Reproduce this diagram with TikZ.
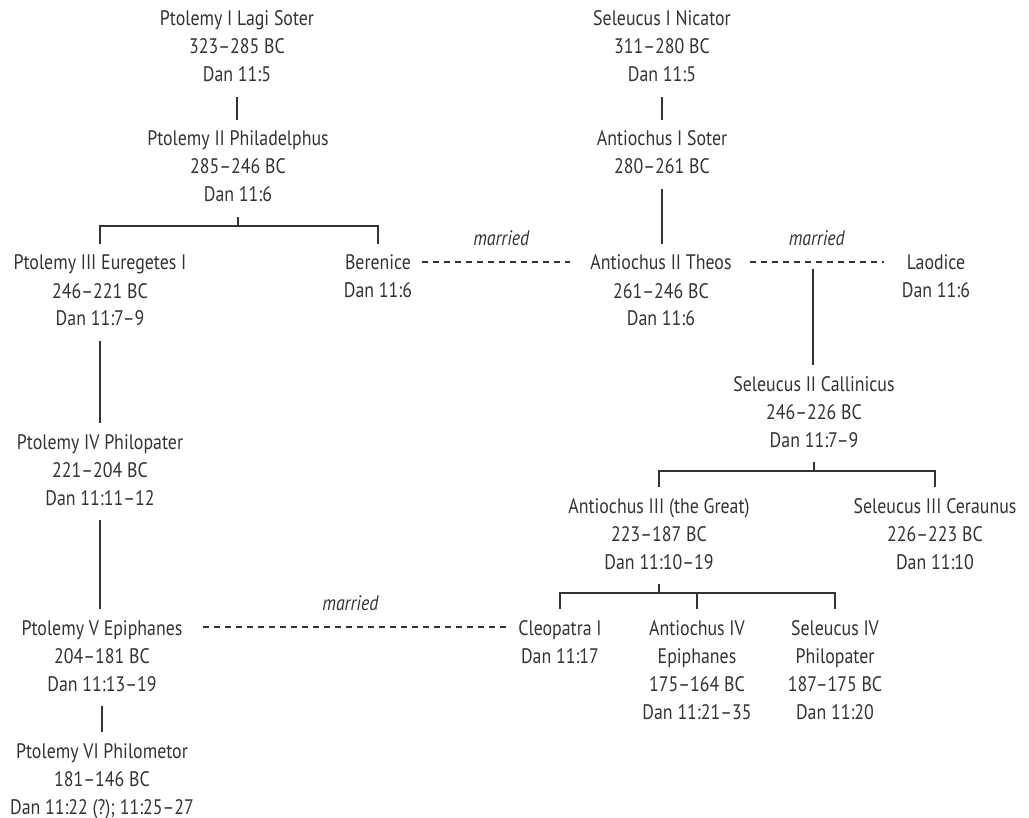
\documentclass[tikz,border=0pt]{standalone}
\usepackage{fontspec}
\setmainfont{PT Sans}[FakeStretch=0.85]
\usepackage{xcolor}
\usetikzlibrary{calc}
\definecolor{ink}{HTML}{333333}
\tikzset{
    person/.style={anchor=north, text=ink, font=\fontsize{10.5}{14}\selectfont,
        inner xsep=1pt, inner ysep=3pt}, % a ruler and his dates
    link/.style={draw=ink, line width=0.6pt}, % line of descent
    wed/.style={link, dash pattern=on 3pt off 2.5pt}, % marriage line
    wedlabel/.style={above=7pt, text=ink, inner sep=1pt, font=\fontsize{10.5}{14}\selectfont\itshape},
}

\begin{document}
\begin{tikzpicture}[x=0.5pt, y=-0.5pt]
    \useasboundingbox (0,0) rectangle (1029,818);

    % Ptolemies (king of the south)
    \node[person] (p1) at (237,0) {\begin{tabular}{@{}c@{}}
                        Ptolemy I Lagi Soter \\ 323–285 BC \\ Dan 11:5
                        \end{tabular}};
    \node[person] (p2) at (238,120) {\begin{tabular}{@{}c@{}}
                        Ptolemy II Philadelphus \\ 285–246 BC \\ Dan 11:6
                        \end{tabular}};
    \node[person] (p3) at (100,244) {\begin{tabular}{@{}c@{}}
                        Ptolemy III Euregetes I \\ 246–221 BC \\ Dan 11:7–9
                        \end{tabular}};
    \node[person] (ber) at (378,244) {\begin{tabular}{@{}c@{}}
                        Berenice \\ Dan 11:6
                        \end{tabular}};
    \node[person] (p4) at (100,423) {\begin{tabular}{@{}c@{}}
                        Ptolemy IV Philopater \\ 221–204 BC \\ Dan 11:11–12
                        \end{tabular}};
    \node[person] (p5) at (102,609) {\begin{tabular}{@{}c@{}}
                        Ptolemy V Epiphanes \\ 204–181 BC \\ Dan 11:13–19
                        \end{tabular}};
    \node[person] (p6) at (102,732) {\begin{tabular}{@{}c@{}}
                        Ptolemy VI Philometor \\ 181–146 BC \\ Dan 11:22 (?); 11:25–27
                        \end{tabular}};

    % Seleucids (king of the north)
    \node[person] (s1) at (662,0) {\begin{tabular}{@{}c@{}}
                        Seleucus I Nicator \\ 311–280 BC \\ Dan 11:5
                        \end{tabular}};
    \node[person] (a1) at (662,120) {\begin{tabular}{@{}c@{}}
                        Antiochus I Soter \\ 280–261 BC
                        \end{tabular}};
    \node[person] (a2) at (661,244) {\begin{tabular}{@{}c@{}}
                        Antiochus II Theos \\ 261–246 BC \\ Dan 11:6
                        \end{tabular}};
    \node[person] (lao) at (936,244) {\begin{tabular}{@{}c@{}}
                        Laodice \\ Dan 11:6
                        \end{tabular}};
    \node[person] (s2) at (814,365) {\begin{tabular}{@{}c@{}}
                        Seleucus II Callinicus \\ 246–226 BC \\ Dan 11:7–9
                        \end{tabular}};
    \node[person] (a3) at (659,487) {\begin{tabular}{@{}c@{}}
                        Antiochus III (the Great) \\ 223–187 BC \\ Dan 11:10–19
                        \end{tabular}};
    \node[person] (s3) at (935,487) {\begin{tabular}{@{}c@{}}
                        Seleucus III Ceraunus \\ 226–223 BC \\ Dan 11:10
                        \end{tabular}};
    \node[person] (cleo) at (560,609) {\begin{tabular}{@{}c@{}}
                        Cleopatra I \\ Dan 11:17
                        \end{tabular}};
    \node[person] (a4) at (697,609) {\begin{tabular}{@{}c@{}}
                        Antiochus IV \\ Epiphanes \\ 175–164 BC \\ Dan 11:21–35
                        \end{tabular}};
    \node[person] (s4) at (835,609) {\begin{tabular}{@{}c@{}}
                        Seleucus IV \\ Philopater \\ 187–175 BC \\ Dan 11:20
                        \end{tabular}};

    % junction points
    \coordinate (j2) at (237,226);
    \coordinate (m2) at (813,269);
    \coordinate (j4) at (815,471);
    \coordinate (j5) at (663,593);

    % descent, south
    \draw[link] (p1.south) -- (p1.south |- p2.north);
    \draw[link] (p2.south) -- (p2.south |- j2);
    \draw[link] (p3.north) |- (j2) -| (ber.north);
    \draw[link] (p3.south) -- (p3.south |- p4.north);
    \draw[link] (p4.south) -- (p4.south |- p5.north);
    \draw[link] (p5.south) -- (p5.south |- p6.north);

    % descent, north
    \draw[link] (s1.south) -- (s1.south |- a1.north);
    \draw[link] (a1.south) -- (a1.south |- a2.north);
    \draw[link] (m2) -- (m2 |- s2.north);
    \draw[link] (s2.south) -- (s2.south |- j4);
    \draw[link] (a3.north) |- (j4) -| (s3.north);
    \draw[link] (a3.south) -- (a3.south |- j5);
    \draw[link] (cleo.north) |- (j5) -| (s4.north);
    \draw[link] (a4.north) -- (a4.north |- j5);

    % marriages
    \draw[wed, shorten <=4pt, shorten >=9pt] ([yshift=-9pt]ber.north east) -- ([yshift=-9pt]a2.north west)
        node[midway, wedlabel] {married};
    \draw[wed, shorten <=8pt, shorten >=8pt] ([yshift=-9pt]a2.north east) -- ([yshift=-9pt]lao.north west)
        node[midway, wedlabel] {married};
    \draw[wed, shorten <=9pt, shorten >=4.5pt] ([yshift=-9pt]p5.north east) -- ([yshift=-9pt]cleo.north west)
        node[midway, wedlabel] {married};
\end{tikzpicture}
\end{document}
